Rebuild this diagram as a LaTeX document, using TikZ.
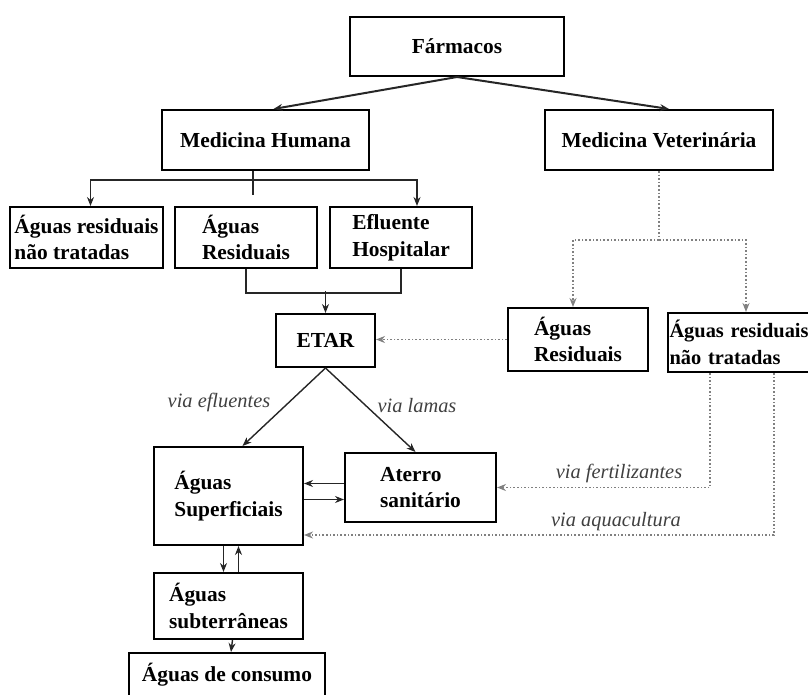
\documentclass[tikz,border=0pt]{standalone}
\usepackage{fontspec}
\setmainfont{Liberation Serif}
\usetikzlibrary{calc}
\usetikzlibrary{arrows.meta}
\tikzstyle{boxnode} = [draw, rectangle, line width=1pt, inner sep=2pt, align=left, font=\bfseries\fontsize{10.7}{13.4}\selectfont]
\tikzstyle{link} = [line width=0.7pt, black!85]
\tikzstyle{dotlink} = [line width=0.8pt, black!50, densely dotted]
\tikzstyle{vialabel} = [font=\itshape\fontsize{10.2}{12}\selectfont, text=black!75]

\begin{document}
\begin{tikzpicture}[x=0.5pt, y=-0.5pt, >={Stealth[length=4.5pt, width=3.5pt]}]
  \useasboundingbox (0,0) rectangle (808,695);

  \node[boxnode, minimum width=107pt, minimum height=29.5pt] (farm) at (457,46.5) {Fármacos};
  \node[boxnode, minimum width=103.5pt, minimum height=30pt] (med_h) at (265.5,140) {Medicina Humana};
  \node[boxnode, minimum width=114pt, minimum height=30pt] (med_v) at (659,140) {Medicina Veterinária};

  \node[boxnode, minimum width=75.5pt, minimum height=30.5pt] (nao_h) at (86.5,237.5) {Águas residuais\\não tratadas};
  \node[boxnode, minimum width=71pt, minimum height=30.5pt] (res_h) at (246,237.5) {Águas\\Residuais};
  \node[boxnode, minimum width=71pt, minimum height=30.5pt] (efl_h) at (401,237.5) {Efluente\\Hospitalar};

  \node[boxnode, minimum width=49.5pt, minimum height=26.5pt] (etar) at (325.5,340.5) {ETAR};
  \node[boxnode, minimum width=70pt, minimum height=31.5pt] (res_v) at (578,339.5) {Águas\\Residuais};
  \node[boxnode, anchor=west, minimum height=29.5pt, text width=78.5pt, inner xsep=0.75pt,
        font=\bfseries\fontsize{10.2}{13.4}\selectfont] (nao_v) at (667,342.5) {Águas residuais\\não tratadas};

  \node[boxnode, minimum width=74.5pt, minimum height=49pt] (sup) at (228.5,496) {Águas\\Superficiais};
  \node[boxnode, minimum width=75.5pt, minimum height=34.5pt] (aterro) at (420.5,487.5) {Aterro\\sanitário};
  \node[boxnode, minimum width=74.5pt, minimum height=33pt] (sub) at (228.5,606) {Águas\\subterrâneas};
  \node[boxnode, minimum width=98pt, minimum height=22pt] (cons) at (227,675) {Águas de consumo};

  \node[vialabel] (via_efl) at (219,402) {via efluentes};
  \node[vialabel] (via_lam) at (417,406) {via lamas};
  \node[vialabel] (via_fert) at (619,473) {via fertilizantes};
  \node[vialabel] (via_aqua) at (616,522) {via aquacultura};

  \draw[->, line width=1pt, black!85] (farm.south) -- ([xshift=4pt]med_h.north);
  \draw[->, line width=1pt, black!85] (farm.south) -- ([xshift=5pt]med_v.north);

  \coordinate (fork_h) at (253,180);
  \draw[link] (med_h.south -| fork_h) -- ($(res_h.north -| fork_h)+(0,-11)$);
  \draw[link, ->] (fork_h) -| ([xshift=2pt]nao_h.north);
  \draw[link, ->] (fork_h) -| ([xshift=8pt]efl_h.north);

  \draw[link] (res_h.south) -- ++(0,24) -| (efl_h.south);
  \draw[link, ->] ($(etar.north)+(0,-22)$) -- (etar.north);

  \coordinate (fork_v) at (659,240);
  \draw[dotlink] (med_v.south) -- (fork_v);
  \draw[dotlink, ->] (fork_v) -| ([xshift=-2.5pt]res_v.north);
  \draw[dotlink, ->] (fork_v) -| ([xshift=-1pt]nao_v.north);
  \draw[dotlink, ->] (res_v.west) -- (res_v.west -| etar.east);

  \draw[link, ->] (etar.south) -- ([xshift=7pt]sup.north);
  \draw[link, ->] (etar.south) -- ([xshift=-2.5pt]aterro.north);

  \draw[link, ->] ([yshift=2pt]aterro.west) -- ([yshift=2pt]aterro.west -| sup.east);
  \draw[link, ->] ([yshift=-6pt]aterro.west -| sup.east) -- ([yshift=-6pt]aterro.west);

  \draw[dotlink, ->] ([xshift=-19pt]nao_v.south) |- (aterro.east);
  \draw[dotlink, ->] ([xshift=13pt]nao_v.south) |- ([yshift=-19.5pt]sup.east);

  \draw[link, ->] ([xshift=-2.5pt]sup.south) -- ([xshift=-2.5pt]sub.north);
  \draw[link, ->] ([xshift=5pt]sub.north) -- ([xshift=5pt]sup.south);
  \draw[link, ->] ([xshift=2pt]sub.south) -- ([xshift=2pt]cons.north);
\end{tikzpicture}
\end{document}
